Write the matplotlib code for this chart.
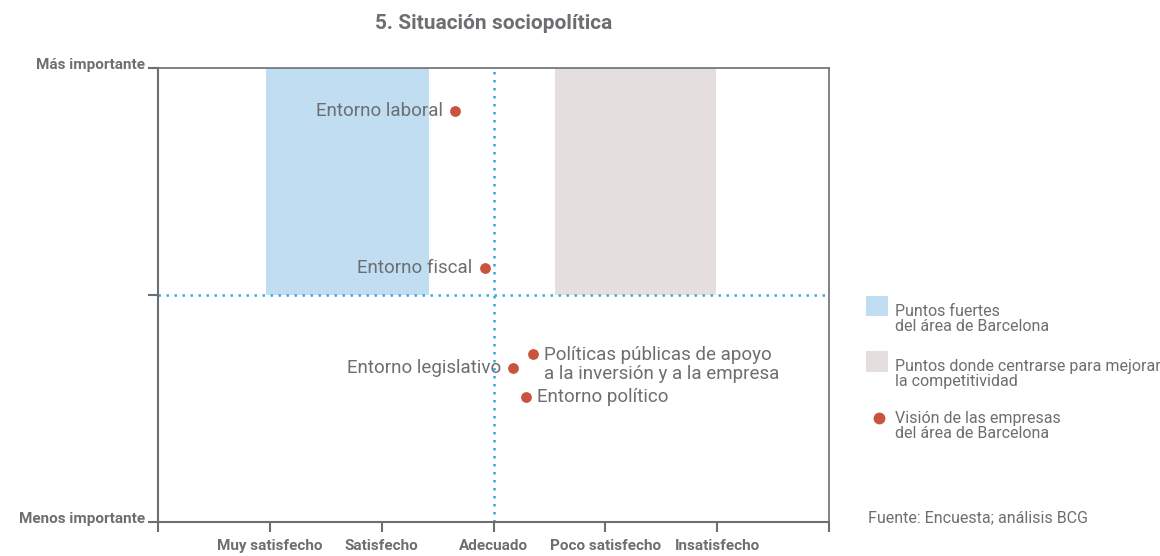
import matplotlib.pyplot as plt
import matplotlib.transforms as mtransforms
from matplotlib.patches import Rectangle
from matplotlib.lines import Line2D

plt.rcParams['font.family'] = ['Roboto', 'DejaVu Sans']

gray = '#6d6e71'
blue = '#c1ddf1'
beige = '#e4dfde'
red = '#c9533d'
dots = '#3aa8e0'

# data
x_labels = ['Muy satisfecho', 'Satisfecho', 'Adecuado', 'Poco satisfecho', 'Insatisfecho']
names = ['Entorno laboral', 'Entorno fiscal', 'Entorno legislativo',
         'Políticas públicas de apoyo\na la inversión y a la empresa', 'Entorno político']
sat = [2.66, 2.92, 3.17, 3.35, 3.29]
imp = [1.81, 1.12, 0.68, 0.74, 0.55]
strong_zone = (0.97, 2.42)
focus_zone = (3.55, 4.99)

fig = plt.figure(figsize=(11.6, 5.56), dpi=100)
ax = fig.add_axes([158/1160, 1 - 522/556, (829-158)/1160, (522-68)/556])

ax.set_xlim(0, 6)
ax.set_ylim(0, 2)

ax.add_patch(Rectangle((strong_zone[0], 1), strong_zone[1]-strong_zone[0], 1, color=blue, lw=0, zorder=0))
ax.add_patch(Rectangle((focus_zone[0], 1), focus_zone[1]-focus_zone[0], 1, color=beige, lw=0, zorder=0))

ax.axvline(3, color=dots, ls=(0, (1, 2.2)), lw=1.8, zorder=1)
ax.axhline(1, color=dots, ls=(0, (1, 2.2)), lw=1.8, zorder=1)

ax.scatter(sat, imp, s=60, color=red, zorder=3, lw=0)

offsets = [(-9, 0, 'right'), (-9, 0, 'right'), (-8, 0, 'right'), (8, -7.5, 'left'), (8, 0, 'left')]
for n, x, y, (dx, dy, ha) in zip(names, sat, imp, offsets):
    ax.annotate(n, (x, y), xytext=(dx, dy), textcoords='offset points', ha=ha, va='center',
                fontsize=13.5, color=gray, linespacing=1.05, zorder=4)

ax.set_xticks(range(7))
ax.set_xticklabels([''] + x_labels + [''], fontsize=11, fontweight='bold', color=gray)
ax.set_yticks([0, 1, 2])
ax.set_yticklabels(['Menos importante', '', 'Más importante'], fontsize=11, fontweight='bold', color=gray)
ax.tick_params(colors=gray, length=7, width=1.5, pad=2)
ax.tick_params(axis='x', pad=5)
shift = mtransforms.ScaledTranslation(0, 4/100, fig.dpi_scale_trans)
for lbl in ax.get_yticklabels():
    lbl.set_transform(lbl.get_transform() + shift)
for s in ax.spines.values():
    s.set_color(gray)
    s.set_linewidth(1.5)
ax.spines['top'].set_linewidth(1.2)
ax.spines['right'].set_linewidth(1.2)

ax.set_title('5. Situación sociopolítica', fontsize=15, fontweight='bold', color=gray, pad=28)

# legend
fig.patches.append(Rectangle((866/1160, 1-316/556), 22/1160, 20/556, color=blue, transform=fig.transFigure, lw=0))
fig.patches.append(Rectangle((866/1160, 1-372/556), 22/1160, 21/556, color=beige, transform=fig.transFigure, lw=0))
fig.lines.append(Line2D([879/1160], [1-418/556], marker='o', ms=7.5, color=red, lw=0, transform=fig.transFigure))
fig.text(895/1160, 1-319/556, 'Puntos fuertes\ndel área de Barcelona', fontsize=11.5, color=gray, va='center', linespacing=1.05)
fig.text(895/1160, 1-374/556, 'Puntos donde centrarse para mejorar\nla competitividad', fontsize=11.5, color=gray, va='center', linespacing=1.05)
fig.text(895/1160, 1-426/556, 'Visión de las empresas\ndel área de Barcelona', fontsize=11.5, color=gray, va='center', linespacing=1.05)
fig.text(868/1160, 1-518/556, 'Fuente: Encuesta; análisis BCG', fontsize=11.5, color=gray, va='center')

fig.savefig('out.png', dpi=100)
